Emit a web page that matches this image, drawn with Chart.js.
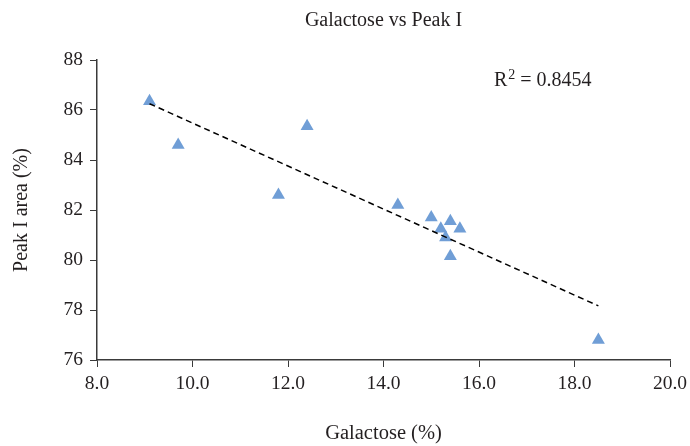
<!DOCTYPE html>
<html>
<head>
<meta charset="utf-8">
<script src="https://cdn.jsdelivr.net/npm/chart.js@4.4.1/dist/chart.umd.min.js"></script>
<style>
  html, body { margin: 0; padding: 0; background: #fff; }
  #wrap { width: 690px; height: 446px; }
</style>
</head>
<body>
<div id="wrap"><canvas id="myChart" width="690" height="446"></canvas></div>
<script>
const chartTitle = 'Galactose vs Peak I';
const xTitle = 'Galactose (%)';
const yTitle = 'Peak I area (%)';
const r2Value = '0.8454';

// galactose (%) and peak I area (%)
const galactose = [9.1, 9.7, 11.8, 12.4, 14.3, 15.0, 15.2, 15.4, 15.3, 15.6, 15.4, 18.5];
const peakArea = [86.35, 84.6, 82.6, 85.35, 82.2, 81.7, 81.25, 81.55, 80.9, 81.25, 80.15, 76.8];

const xTicks = [8, 10, 12, 14, 16, 18, 20];
const yTicks = [76, 78, 80, 82, 84, 86, 88];

const points = galactose.map((g, i) => ({ x: g, y: peakArea[i] }));

// linear trend line (least squares) over the data range
function trendLine(xs, ys) {
    const n = xs.length;
    const mx = xs.reduce((a, b) => a + b, 0) / n;
    const my = ys.reduce((a, b) => a + b, 0) / n;
    let sxy = 0, sxx = 0;
    for (let i = 0; i < n; i++) {
        sxy += (xs[i] - mx) * (ys[i] - my);
        sxx += (xs[i] - mx) * (xs[i] - mx);
    }
    const slope = sxy / sxx;
    const x0 = Math.min(...xs), x1 = Math.max(...xs);
    return [
        { x: x0, y: my + slope * (x0 - mx) },
        { x: x1, y: my + slope * (x1 - mx) }
    ];
}

const serif = '"Liberation Serif", "Times New Roman", serif';
const textColor = '#231f20';
const axisColor = '#3a3a3a';

const labelsPlugin = {
    id: 'labels',
    afterDraw(chart) {
        const { ctx, chartArea } = chart;
        ctx.save();
        ctx.fillStyle = textColor;
        ctx.font = '20px ' + serif;
        ctx.textAlign = 'center';
        ctx.textBaseline = 'middle';
        ctx.fillText(chartTitle, (chartArea.left + chartArea.right) / 2, 21);

        // R squared label with a raised 2
        ctx.textAlign = 'left';
        ctx.textBaseline = 'alphabetic';
        let x = chartArea.left + 397;
        const base = 86;
        ctx.font = '20px ' + serif;
        ctx.fillText('R', x, base);
        x += ctx.measureText('R').width + 1;
        ctx.font = '14px ' + serif;
        ctx.fillText('2', x, base - 7);
        x += ctx.measureText('2').width;
        ctx.font = '20px ' + serif;
        ctx.fillText(' = ' + r2Value, x, base);
        ctx.restore();
    }
};

const ctx = document.getElementById('myChart').getContext('2d');
const myChart = new Chart(ctx, {
    type: 'scatter',
    data: {
        datasets: [
            {
                data: points,
                pointStyle: 'triangle',
                pointRadius: 7.5,
                pointHoverRadius: 7.5,
                backgroundColor: 'rgb(112, 158, 214)',
                borderColor: 'rgb(112, 158, 214)',
                borderWidth: 0,
                order: 2
            },
            {
                type: 'line',
                data: trendLine(galactose, peakArea),
                showLine: true,
                borderColor: '#000',
                borderWidth: 1.5,
                borderDash: [6, 4],
                pointRadius: 0,
                fill: false,
                order: 1
            }
        ]
    },
    options: {
        responsive: false,
        animation: false,
        layout: { padding: { top: 60, right: 20, left: 0, bottom: 0 } },
        plugins: {
            legend: { display: false },
            tooltip: { enabled: false },
            title: { display: false }
        },
        scales: {
            x: {
                type: 'linear',
                min: 8,
                max: 20,
                afterBuildTicks: (axis) => { axis.ticks = xTicks.map(v => ({ value: v })); },
                afterFit: (axis) => {
                    axis.height = 86;
                    axis.paddingRight = 0;
                    axis.paddingLeft = 0;
                },
                ticks: {
                    color: textColor,
                    font: { family: serif, size: 19.5 },
                    padding: 5,
                    maxRotation: 0,
                    callback: (v) => v.toFixed(1)
                },
                grid: { display: true, drawOnChartArea: false, drawTicks: true, tickLength: 7, color: axisColor },
                border: { display: true, color: axisColor, width: 1.5 },
                title: {
                    display: true,
                    text: xTitle,
                    color: textColor,
                    font: { family: serif, size: 20.5 },
                    padding: { top: 0, bottom: 0 }
                }
            },
            y: {
                type: 'linear',
                min: 76,
                max: 88,
                afterBuildTicks: (axis) => { axis.ticks = yTicks.map(v => ({ value: v })); },
                afterFit: (axis) => { axis.width = 97; },
                ticks: {
                    color: textColor,
                    font: { family: serif, size: 19.5 },
                    padding: 7
                },
                grid: { display: true, drawOnChartArea: false, drawTicks: true, tickLength: 7, color: axisColor },
                border: { display: true, color: axisColor, width: 1.5 },
                title: {
                    display: true,
                    text: yTitle,
                    color: textColor,
                    font: { family: serif, size: 20 },
                    padding: { top: 10, bottom: 0 }
                }
            }
        }
    },
    plugins: [labelsPlugin]
});
</script>
</body>
</html>
